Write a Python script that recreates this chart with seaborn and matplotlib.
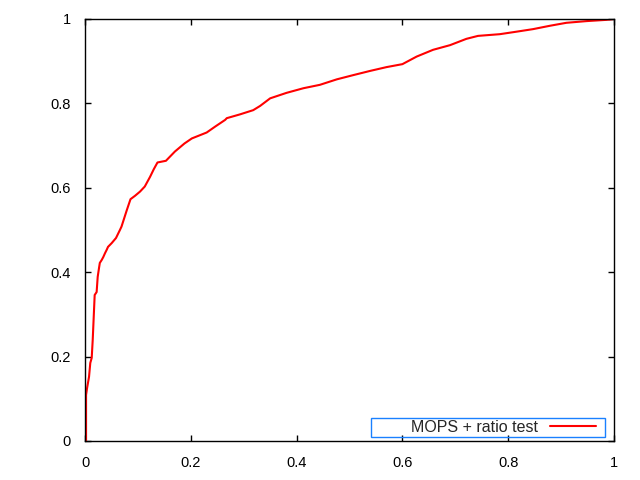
import matplotlib
matplotlib.use("Agg")
import matplotlib.pyplot as plt
from matplotlib.patches import Rectangle
import seaborn as sns
import pandas as pd

# ROC-like curve: x = false positive rate, y = true positive rate
fpr = [0.0, 0.002, 0.002, 0.004, 0.0076, 0.010, 0.0127, 0.0146, 0.0183, 0.022,
       0.024, 0.0265, 0.028, 0.0316, 0.0346, 0.0378, 0.041, 0.0435, 0.0505,
       0.0586, 0.066, 0.069, 0.079, 0.086, 0.0945, 0.104, 0.113, 0.123, 0.130,
       0.137, 0.153, 0.170, 0.188, 0.202, 0.230, 0.246, 0.265, 0.268, 0.293,
       0.318, 0.331, 0.350, 0.381, 0.413, 0.444, 0.476, 0.507, 0.539, 0.570,
       0.600, 0.627, 0.658, 0.690, 0.721, 0.743, 0.784, 0.816, 0.847, 0.879,
       0.910, 0.948, 0.986, 1.0]
tpr = [0.0, 0.0, 0.109, 0.126, 0.152, 0.185, 0.197, 0.24, 0.346, 0.353,
       0.389, 0.41, 0.422, 0.429, 0.436, 0.445, 0.453, 0.46, 0.469,
       0.481, 0.5, 0.508, 0.547, 0.573, 0.581, 0.591, 0.603, 0.626, 0.644,
       0.660, 0.664, 0.686, 0.705, 0.717, 0.731, 0.745, 0.761, 0.765, 0.774,
       0.784, 0.794, 0.812, 0.825, 0.836, 0.844, 0.857, 0.867, 0.877, 0.886,
       0.893, 0.911, 0.927, 0.938, 0.953, 0.960, 0.964, 0.970, 0.976, 0.984,
       0.991, 0.995, 0.998, 1.0]
series_label = "MOPS + ratio test"
xticks = [0, 0.2, 0.4, 0.6, 0.8, 1]
yticks = [0, 0.2, 0.4, 0.6, 0.8, 1]
tick_labels = ["0", "0.2", "0.4", "0.6", "0.8", "1"]

df = pd.DataFrame({"fpr": fpr, "tpr": tpr, "series": series_label})

sns.set_style("white")
plt.rcParams["font.family"] = ["Liberation Sans", "DejaVu Sans"]

fig = plt.figure(figsize=(6.4, 4.8), dpi=100)
ax = fig.add_axes([85 / 640, 39 / 480, 529 / 640, 422 / 480])

sns.lineplot(data=df, x="fpr", y="tpr", hue="series", palette=["#ff0000"],
             sort=False, estimator=None, linewidth=1.5, ax=ax)

ax.set_xlim(0, 1)
ax.set_ylim(0, 1)
ax.set_xticks(xticks)
ax.set_xticklabels(tick_labels)
ax.set_yticks(yticks)
ax.set_yticklabels(tick_labels)
ax.set_xlabel("")
ax.set_ylabel("")

for s in ax.spines.values():
    s.set_visible(True)
    s.set_color("black")
    s.set_linewidth(1.0)

ax.tick_params(direction="in", length=4.5, width=1.0, top=True, right=True,
               bottom=True, left=True, labelsize=10.5, colors="black", pad=10)
ax.tick_params(axis="x", pad=10.5)

handles, labels = ax.get_legend_handles_labels()
leg = ax.legend(handles, [series_label], loc="center right",
                bbox_to_anchor=(511 / 529, 14 / 422),
                borderaxespad=0, borderpad=0, markerfirst=False,
                frameon=False, fontsize=11.5, handlelength=2.9,
                handletextpad=0.75)

# legend box (gnuplot style, blue border)
ax.add_patch(Rectangle((286 / 529, 4 / 422), 234 / 529, 19.5 / 422,
                       transform=ax.transAxes, fill=False,
                       edgecolor="#1a80ff", linewidth=1.0, zorder=5,
                       clip_on=False))

fig.savefig("out.png", dpi=100, facecolor="white")
